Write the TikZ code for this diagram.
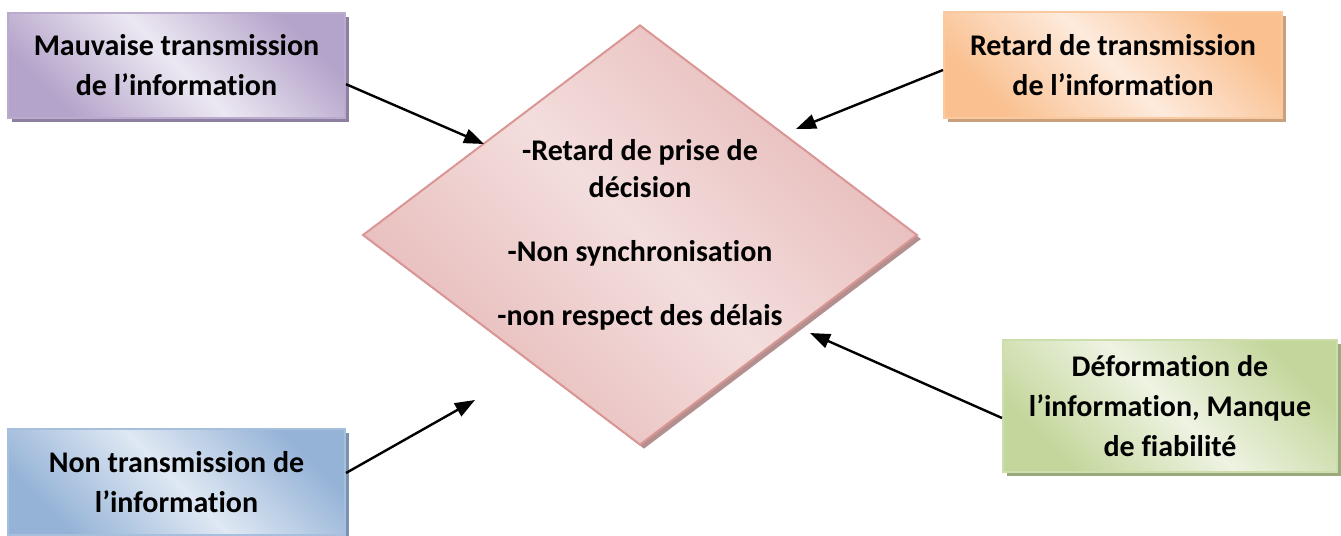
\documentclass[tikz,border=0pt]{standalone}
\usepackage{fontspec}
\setmainfont{Carlito}[Ligatures=NoCommon]
\usetikzlibrary{shapes.geometric,arrows.meta,shadows}

\definecolor{violetfonce}{HTML}{B4A3CA}
\definecolor{violetclair}{HTML}{ECE8F2}
\definecolor{violetbord}{HTML}{B9AACE}
\definecolor{violetombre}{HTML}{8C7FA0}
\definecolor{orangefonce}{HTML}{FAC090}
\definecolor{orangeclair}{HTML}{FDEBDD}
\definecolor{orangebord}{HTML}{FBC9A0}
\definecolor{orangeombre}{HTML}{C8A07C}
\definecolor{bleufonce}{HTML}{95B3D7}
\definecolor{bleuclair}{HTML}{DFE8F3}
\definecolor{bleubord}{HTML}{A5BFDD}
\definecolor{bleuombre}{HTML}{7B92AE}
\definecolor{vertfonce}{HTML}{C3D69B}
\definecolor{vertclair}{HTML}{EEF3E2}
\definecolor{vertbord}{HTML}{CDDDAB}
\definecolor{vertombre}{HTML}{9BAA7C}
\definecolor{rosefonce}{HTML}{E6B9B8}
\definecolor{roseclair}{HTML}{F3DEDD}
\definecolor{rosebord}{HTML}{D99694}
\definecolor{roseombre}{HTML}{B3908F}

\tikzset{
  boite/.style={rectangle, line width=1.5pt, inner sep=0pt, align=center,
    font=\bfseries\fontsize{22.5}{30}\selectfont,
    draw=#1bord, left color=#1fonce, right color=#1fonce, middle color=#1clair,
    shading angle=135,
    drop shadow={shadow xshift=3pt, shadow yshift=-3pt, fill=#1ombre, opacity=1}},
  fleche/.style={line width=1.8pt, -{Triangle[length=15pt, width=11pt]}}
}

\begin{document}
\begin{tikzpicture}[x=0.75pt, y=-0.75pt]
    \useasboundingbox (0,0) rectangle (1341,535);

    % le losange central
    \node[boite=rose, diamond, shape aspect=1.32, minimum width=416pt, minimum height=315pt,
          font=\bfseries\fontsize{22.5}{28}\selectfont] (effets) at (640,235)
        {-Retard de prise de\\d\'ecision\\[20pt]-Non synchronisation\\[20pt]-non respect des d\'elais};

    % les causes
    \node[boite=violet, minimum width=252.75pt, minimum height=78.75pt] (mauvaise) at (176.5,65.5)
        {Mauvaise transmission\\de l’information};
    \node[boite=orange, minimum width=253.5pt, minimum height=79.5pt] (retard) at (1113,65)
        {Retard de transmission\\de l’information};
    \node[boite=bleu, minimum width=252.75pt, minimum height=79.5pt] (nontrans) at (176.5,482)
        {Non transmission de\\l’information};
    \node[boite=vert, minimum width=250.5pt, minimum height=99pt] (deform) at (1170,406)
        {D\'eformation de\\l’information, Manque\\de fiabilit\'e};

    \coordinate (bout1) at (484,144);
    \coordinate (bout2) at (796,129);
    \coordinate (bout3) at (475,400);
    \coordinate (bout4) at (810,333);

    \draw[fleche] ([yshift=-14pt]mauvaise.east) -- (bout1);
    \draw[fleche] ([yshift=-3.75pt]retard.west) -- (bout2);
    \draw[fleche] ([yshift=6.75pt]nontrans.east) -- (bout3);
    \draw[fleche] ([yshift=-9pt]deform.west) -- (bout4);
\end{tikzpicture}
\end{document}
